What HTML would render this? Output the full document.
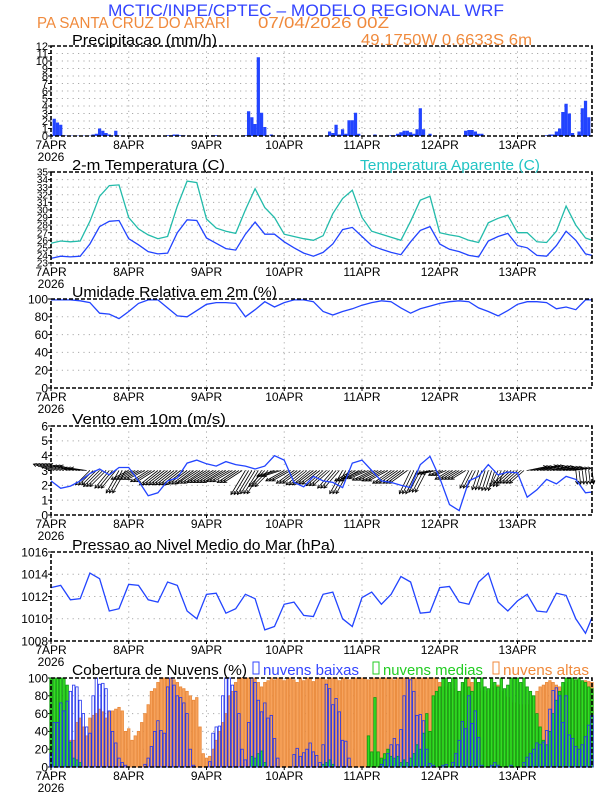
<!DOCTYPE html>
<html><head><meta charset="utf-8"><style>
body{margin:0;background:#fff}
svg{display:block;font-family:"Liberation Sans",sans-serif}
</style></head><body>
<svg id="c" width="612" height="792" viewBox="0 0 612 792"></svg>
<script>
// ---- data ----
const hours3=[0,3,6,9,12,15,18,21,24,27,30,33,36,39,42,45,48,51,54,57,60,63,66,69,72,75,78,81,84,87,90,93,96,99,102,105,108,111,114,117,120,123,126,129,132,135,138,141,144,147,150,153,156,159,162,165,167];
const dayLabels=["7APR","8APR","9APR","10APR","11APR","12APR","13APR"];
const precip=[0.1,2.3,1.8,1.5,0.1,0.05,0.05,0.05,0.05,0.05,0.05,0.05,0.05,0.2,0.3,1.0,0.7,0.4,0.2,0.05,0.7,0.05,0,0,
0,0,0,0,0,0,0,0,0,0,0,0,0.1,0.1,0.2,0.2,0.1,0.1,0,0,0,0,0,0,
0,0,0.1,0.1,0.05,0,0,0,0,0,0,0,0.1,3.3,2.5,1.6,10.5,3.1,1.2,0,0.2,0,0,0,
0,0,0,0,0,0,0,0,0,0,0,0,0,0,0.6,0.4,1.5,0.2,0.9,0.3,2.1,2.1,3.1,0.3,
0,0,0,0,0.2,0,0,0,0,0.1,0.1,0.3,0.5,0.7,0.7,0.5,0.3,0.9,3.7,0.9,0,0.3,0,0,
0,0,0,0,0,0,0,0,0.7,0.8,0.8,0.6,0.3,0.3,0,0,0,0,0,0,0,0,0,0,
0,0,0,0,0,0,0,0,0,0.1,0.2,0.2,0.6,1.0,3.2,4.3,3.0,0.4,0,0.6,3.7,4.7,2.5,0];
const temp=[23.6,23.9,23.8,23.9,25.5,27.8,28.5,28.6,26.2,25.4,24.5,24.2,24.3,27.0,28.7,28.6,26.3,25.6,24.9,24.7,26.8,28.4,26.8,26.8,25.8,25.0,24.3,23.9,24.4,25.5,27.4,27.7,26.5,25.3,24.8,24.4,24.1,25.8,27.3,27.8,25.5,24.8,24.5,24.0,23.8,25.9,26.5,26.9,25.3,25.0,24.0,23.9,25.3,27.2,26.0,24.2,24.0];
const tempApp=[25.6,25.9,25.8,25.9,28.5,31.8,33.2,33.3,29.0,27.5,26.7,26.2,26.5,30.5,33.8,33.6,28.8,27.6,27.2,26.9,30.0,32.8,30.3,29.0,26.8,26.5,26.2,26.0,26.6,29.5,31.5,32.6,29.0,27.2,26.8,26.4,26.0,28.5,31.3,31.8,27.0,26.7,26.5,26.0,25.7,28.3,28.9,29.3,27.0,27.0,25.8,25.7,27.2,30.5,28.0,26.3,26.0];
const humid=[99,99,99,98,96,84,83,78,86,95,99,99,90,81,80,87,94,96,96,95,80,88,97,91,96,99,99,97,86,82,86,89,93,96,98,97,90,84,89,92,95,97,98,97,90,86,81,87,94,97,97,96,89,91,88,99,99];
const windSpd=[2.3,1.8,1.95,2.3,2.8,3.1,2.7,3.2,3.2,2.3,1.3,1.5,2.3,2.5,3.5,3.7,3.45,3.3,3.6,3.4,3.3,3.1,3.3,4.0,3.7,2.2,1.9,2.6,2.3,2.2,1.85,3.5,3.7,3.0,2.3,2.2,2.0,1.85,3.4,3.95,2.5,0.7,0.3,2.3,2.6,3.4,2.7,2.9,2.84,1.2,1.7,2.4,2.1,2.6,2.4,1.5,1.55];
const windU=[-2.2,-2.2,-2.1,-2.0,-1.8,-2.0,-1.8,-1.6,-2.2,-2.2,-2.2,-2.3,-2.3,-2.3,-2.3,-2.4,-2.4,-2.4,-2.4,-2.3,-1.8,-1.8,-2.0,-2.2,-2.3,-2.2,-2.2,-2.2,-2.1,-1.9,-1.6,-2.2,-2.4,-2.4,-2.4,-2.3,-2.2,-1.4,-1.4,-1.8,-1.4,-1.8,-1.8,-1.1,-0.8,-0.8,-1.0,-1.8,-1.8,2.4,2.5,2.5,2.4,2.3,0.2,0.2,0.2];
const windV=[0.8,0.8,0.6,0.3,-1.8,-2.0,-2.2,-2.8,-1.1,-1.1,-1.4,-1.8,-1.8,-1.8,-1.7,-1.6,-1.5,-1.5,-1.4,-1.5,-3.0,-2.9,-2.0,-0.7,-1.3,-1.6,-1.8,-1.7,-1.9,-2.2,-2.9,-1.3,-1.0,-1.2,-1.3,-1.6,-1.6,-2.9,-2.7,-0.4,-0.6,-1.1,-1.1,-2.2,-2.4,-2.5,-2.0,-1.6,-1.6,0.5,0.6,0.5,0.4,0.3,-1.7,-1.7,-1.6];
const press=[1012.8,1013.0,1011.7,1011.8,1014.1,1013.6,1010.7,1010.9,1013.1,1013.0,1011.7,1011.5,1013.3,1013.0,1010.7,1010.0,1012.2,1012.3,1010.5,1010.9,1012.2,1011.8,1009.0,1009.3,1011.3,1011.5,1010.3,1010.2,1012.2,1012.4,1010.0,1009.3,1011.9,1012.4,1011.3,1012.2,1013.8,1013.3,1010.5,1010.6,1012.8,1012.9,1011.5,1011.3,1013.3,1014.1,1011.5,1010.7,1011.6,1012.2,1010.7,1010.6,1012.3,1012.1,1010.0,1008.7,1010.1];
const cloudLow=[15,50,50,72,63,74,85,92,90,75,60,45,38,80,100,93,94,88,63,40,27,10,5,2,
0,0,0,0,0,3,10,23,40,52,41,38,90,100,92,80,78,72,60,20,2,0,0,0,
0,6,38,45,46,80,100,100,92,85,60,20,8,50,100,95,75,62,72,55,58,32,10,0,
0,0,0,14,21,12,16,20,27,17,13,5,25,93,88,70,77,62,30,29,10,0,0,0,
0,0,0,0,0,0,3,8,15,25,32,25,42,80,100,98,85,58,59,52,20,4,2,0,
0,2,3,0,5,15,30,51,43,80,49,63,33,2,0,0,2,5,2,0,0,0,2,0,
0,0,5,11,15,20,27,25,28,41,65,86,89,80,50,80,36,32,23,20,25,34,47,58];
const cloudMid=[100,100,100,100,100,92,28,10,8,5,0,0,0,0,0,0,0,0,0,0,0,0,0,0,
0,0,0,0,0,0,0,0,0,0,0,0,0,0,0,0,0,0,0,0,0,0,0,0,
0,0,0,0,0,0,0,0,0,0,0,0,0,0,12,10,15,18,5,0,0,0,0,0,
0,0,0,0,0,0,0,0,0,0,0,0,3,5,8,3,0,0,0,0,0,0,0,0,
0,0,35,17,78,17,10,15,20,12,10,12,5,8,5,10,15,25,20,38,60,40,80,85,
90,100,100,95,100,100,85,95,100,90,85,100,95,100,90,88,100,95,90,100,88,92,100,100,
100,95,100,90,85,80,60,45,30,25,40,60,75,85,95,100,100,100,98,100,97,95,90,88];
const cloudHigh=[0,0,0,0,0,0,30,30,50,55,45,35,55,58,60,65,62,55,62,63,65,67,63,40,
43,30,35,40,50,60,70,85,88,95,100,100,100,100,98,95,90,88,85,80,75,78,45,15,
10,12,20,30,40,50,60,80,85,95,100,100,100,100,98,100,95,90,95,97,100,98,100,100,
97,100,100,98,95,100,97,100,100,96,100,100,100,98,100,100,100,97,100,100,98,100,100,100,
100,100,98,100,100,100,100,100,100,100,98,100,100,100,100,100,100,100,100,100,100,100,100,100,
95,95,90,92,88,85,85,90,95,100,95,90,88,85,82,85,88,90,92,85,80,78,75,72,
70,70,65,70,75,80,85,90,92,95,97,95,92,90,88,92,95,97,98,97,95,97,96,95];

// ---- drawing ----
const NS="http://www.w3.org/2000/svg";
const svg=document.getElementById('c');
const X0=51,X1=592,HMAX=167;
function xh(h){return X0+h*(X1-X0)/HMAX;}
function mk(tag,attrs,parent){const e=document.createElementNS(NS,tag);for(const k in attrs)e.setAttribute(k,attrs[k]);(parent||svg).appendChild(e);return e;}
function txt(s,x,y,size,fill,anchor,parent){const t=mk('text',{x:x,y:y,'font-size':size,fill:fill,'text-anchor':anchor||'start'},parent);t.textContent=s;return t;}
function wtxt(s,x,y,size,fill,len,parent){const t=mk('text',{x:x,y:y,'font-size':size,fill:fill,textLength:len,lengthAdjust:'spacingAndGlyphs'},parent);t.textContent=s;return t;}

function panel(name,top,bot,vmin,vmax,ticks,tickSize){
  const g=mk('g',{});
  
  
  const ys=v=>bot-(v-vmin)/(vmax-vmin)*(bot-top);
  ticks.forEach(v=>{
    const y=ys(v);
    if(v>vmin&&v<vmax){const l=mk('line',{x1:X0,x2:X1,y1:y,y2:y,stroke:'#aaa','stroke-width':1,'stroke-dasharray':'1.2,4.2'},g);
    
    }
    const tk=mk('line',{x1:X0-3,x2:X0,y1:y,y2:y,stroke:'#000'},g);
    
    
    const t=txt(String(v),X0-3,y+tickSize*0.36,tickSize,'#000','end',g);
    
    
  });
  dayLabels.forEach((d,i)=>{
    const x=xh(i*24);
    if(i>0){const l=mk('line',{x1:x,x2:x,y1:top,y2:bot,stroke:'#aaa','stroke-width':1,'stroke-dasharray':'1.2,4.2'},g);
    
    }
    const tk=mk('line',{x1:x,x2:x,y1:bot,y2:bot+3,stroke:'#000'},g);
    
    
    const t=txt(d,x,bot+13,12,'#000','middle',g);
    
    
  });
  const yr=txt('2026',X0,bot+25,12,'#000','middle',g);
  
  
  return {g:g,ys:ys,top:top,bot:bot};
}
function frame(p){
  const r=mk('rect',{x:X0,y:p.top,width:X1-X0,height:p.bot-p.top,fill:'none',stroke:'#000','stroke-width':1.6,'stroke-dasharray':'4,2'},p.g);
  
  
}
function line(p,vals,color,name){
  const pts=vals.map((v,i)=>xh(hours3[i]).toFixed(1)+','+p.ys(v).toFixed(1)).join(' ');
  const pl=mk('polyline',{points:pts,fill:'none',stroke:color,'stroke-width':1.3},p.g);
  
  
}
const HW=(X1-X0)/HMAX;

// header
let t=wtxt('MCTIC/INPE/CPTEC – MODELO REGIONAL WRF',108,16,17,'#3344ff',396);


t=wtxt('PA SANTA CRUZ DO ARARI',37,28,16,'#f08a3c',193);


t=wtxt('07/04/2026 00Z',258,28,16,'#f08a3c',131);


t=wtxt('49.1750W 0.6633S 6m',361,45,16,'#f08a3c',171);



// precip
let p=panel('precipitation',46,136,0,12,[0,1,2,3,4,5,6,7,8,9,10,11,12],11);
t=wtxt('Precipitacao (mm/h)',72,45,15,'#000',145);


precip.forEach((v,h)=>{if(v<=0)return;const y=p.ys(v);
  const b=mk('rect',{x:xh(h)-HW/2,y:y,width:HW,height:p.bot-y,fill:'#2244ff'},p.g);
  
  });
frame(p);

// temperature
p=panel('temperature',172,263,23,35,[23,24,25,26,27,28,29,30,31,32,33,34,35],10);
t=wtxt('2-m Temperatura (C)',72,170,15,'#000',153);


t=wtxt('Temperatura Aparente (C)',360,170,15,'#22c4c4',180);


line(p,tempApp,'#22bbaa','apparent-temperature-line');
line(p,temp,'#2244ff','temperature-line');
frame(p);

// humidity
p=panel('humidity',299,388,0,100,[0,20,40,60,80,100],12);
t=wtxt('Umidade Relativa em 2m (%)',72,297,15,'#000',205);


line(p,humid,'#2244ff','humidity-line');
frame(p);

// wind
p=panel('wind',426,515,0,6,[0,1,2,3,4,5,6],12);
t=wtxt('Vento em 10m (m/s)',72,424,15,'#000',154);


const y3=p.ys(3);const K=8;
windU.forEach((u,i)=>{
  for(let k=0;k<3&&hours3[i]+k<=HMAX;k++){
    const xs=xh(hours3[i]+k),xe=xs+u*K,ye=y3-windV[i]*K;
    const a=mk('line',{x1:xs,y1:y3,x2:xe,y2:ye,stroke:'#000','stroke-width':0.8},p.g);
    
    
    const ang=Math.atan2(ye-y3,xe-xs),L=3.5;
    const hd=mk('polyline',{points:(xe-L*Math.cos(ang-0.5))+','+(ye-L*Math.sin(ang-0.5))+' '+xe+','+ye+' '+(xe-L*Math.cos(ang+0.5))+','+(ye-L*Math.sin(ang+0.5)),fill:'none',stroke:'#000','stroke-width':0.8},p.g);
    
    
  }
});
line(p,windSpd,'#2244ff','wind-speed-line');
frame(p);

// pressure
p=panel('pressure',552,641,1008,1016,[1008,1010,1012,1014,1016],12);
t=wtxt('Pressao ao Nivel Medio do Mar (hPa)',72,550,15,'#000',263);


line(p,press,'#2244ff','pressure-line');
frame(p);

// clouds
p=panel('cloud-cover',678,767,0,100,[0,20,40,60,80,100],12);
t=wtxt('Cobertura de Nuvens (%)',72,675,15,'#000',175);


[['#3344ff','nuvens baixas',253,96],['#22cc22','nuvens medias',373,100],['#f08a3c','nuvens altas',493,86]].forEach(l=>{
  const r=mk('rect',{x:l[2],y:662,width:6,height:12,fill:'none',stroke:l[0],'stroke-width':1});
  
  
  const tt=wtxt(l[1],l[2]+10,675,15,l[0],l[3]);
  
  
});
function bars(arr,fill,stroke,name){
  arr.forEach((v,h)=>{if(v<=0)return;const y=p.ys(v);
    const b=mk('rect',{x:xh(h)-HW/2+0.4,y:y,width:HW-0.8,height:p.bot-y,fill:fill,stroke:stroke,'stroke-width':0.8},p.g);
    
    });
}
bars(cloudHigh,'#f7a35c','#e8883a','high-cloud-bar');
bars(cloudMid,'#33dd22','#119911','mid-cloud-bar');
bars(cloudLow,'none','#2233ee','low-cloud-bar');
frame(p);
</script>
</body></html>
